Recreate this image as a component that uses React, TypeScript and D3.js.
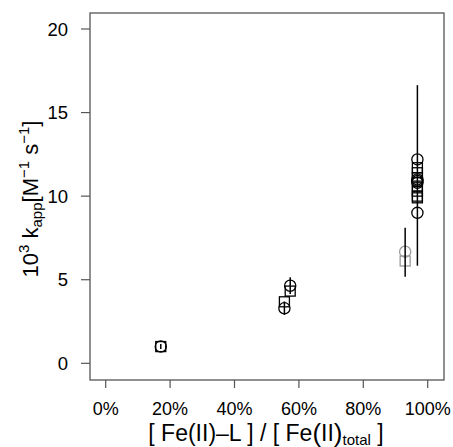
import React from "react";
import * as d3 from "d3";

// Fraction of Fe(II) bound to ligand vs. apparent rate constant (×10³)
const circleX = [0.171, 0.555, 0.573, 0.968, 0.968, 0.968, 0.968, 0.968];
const circleY = [1.0, 3.29, 4.64, 12.2, 11.0, 10.9, 10.8, 9.0];
const squareX = [0.171, 0.555, 0.573, 0.968, 0.968, 0.968, 0.968, 0.968, 0.968, 0.968];
const squareY = [1.0, 3.68, 4.32, 11.7, 11.4, 11.1, 10.6, 10.3, 10.0, 9.9];
const greyCircleX = [0.93];
const greyCircleY = [6.68];
const greySquareX = [0.93];
const greySquareY = [6.12];
// Error bars: x, low, high
const errX = [0.171, 0.555, 0.573, 0.93, 0.968];
const errLo = [0.85, 2.9, 4.15, 5.18, 5.84];
const errHi = [1.15, 3.7, 5.15, 8.11, 16.64];
const xTicks = [0, 0.2, 0.4, 0.6, 0.8, 1.0];
const yTicks = [0, 5, 10, 15, 20];

const W = 453;
const H = 447;
const box = { left: 90, right: 444, top: 13, bottom: 380 };

export default function App() {
  const x = d3.scaleLinear().domain([0, 1]).range([105.7, 427.7]);
  const y = d3.scaleLinear().domain([0, 20]).range([363.3, 29]);
  const fmt = d3.format(".0%");
  const font = "'Liberation Sans', Arial, Helvetica, sans-serif";
  const axisCol = "#555";
  const r = 5.6;
  const s = 5;

  return (
    <svg
      width={W}
      height={H}
      style={{ position: "absolute", left: 0, top: 0, background: "#fff" }}
      fontFamily={font}
    >
      <rect
        x={box.left}
        y={box.top}
        width={box.right - box.left}
        height={box.bottom - box.top}
        fill="none"
        stroke={axisCol}
        strokeWidth={1.3}
      />
      {/* x axis */}
      {xTicks.map((t) => (
        <g key={"xt" + t}>
          <line x1={x(t)} x2={x(t)} y1={box.bottom} y2={box.bottom + 8} stroke={axisCol} strokeWidth={1.2} />
          <text x={x(t)} y={415} textAnchor="middle" fontSize={18} fill="#000">
            {fmt(t)}
          </text>
        </g>
      ))}
      {/* y axis */}
      {yTicks.map((t) => (
        <g key={"yt" + t}>
          <line x1={box.left - 9} x2={box.left} y1={y(t)} y2={y(t)} stroke={axisCol} strokeWidth={1.2} />
          <text x={68} y={y(t) + 6.5} textAnchor="end" fontSize={18.5} fill="#000">
            {t}
          </text>
        </g>
      ))}
      {/* grey points */}
      {greySquareX.map((d, i) => (
        <rect key={"gs" + i} x={x(d) - s} y={y(greySquareY[i]) - s} width={2 * s} height={2 * s}
          fill="none" stroke="#999" strokeWidth={1.3} />
      ))}
      {greyCircleX.map((d, i) => (
        <circle key={"gc" + i} cx={x(d)} cy={y(greyCircleY[i])} r={r} fill="none" stroke="#999" strokeWidth={1.3} />
      ))}
      {/* black points */}
      {squareX.map((d, i) => (
        <rect key={"s" + i} x={x(d) - s} y={y(squareY[i]) - s} width={2 * s} height={2 * s}
          fill="none" stroke="#000" strokeWidth={1.3} />
      ))}
      {circleX.map((d, i) => (
        <circle key={"c" + i} cx={x(d)} cy={y(circleY[i])} r={r} fill="none" stroke="#000" strokeWidth={1.3} />
      ))}
      {/* error bars */}
      {errX.map((d, i) => (
        <g key={"e" + i} stroke="#000" strokeWidth={1.5}>
          <line x1={x(d)} x2={x(d)} y1={y(errLo[i])} y2={y(errHi[i])} />
        </g>
      ))}
      {/* x title */}
      <text x={266} y={441} textAnchor="middle" fontSize={23} fill="#000">
        [ Fe(II)–L ] / [ Fe
        <tspan fontSize={26} dy={1}>(</tspan>
        <tspan dy={-1}>II</tspan>
        <tspan fontSize={26} dy={1}>)</tspan>
        <tspan fontSize={15} dy={3}>total</tspan>
        <tspan dy={-4}> ]</tspan>
      </text>
      {/* y title */}
      <text transform={`translate(38,199) rotate(-90)`} textAnchor="middle" fontSize={22} fill="#000">
        10<tspan fontSize={15} dy={-9}>3</tspan>
        <tspan dy={9}> k</tspan>
        <tspan fontSize={15} dy={4}>app</tspan>
        <tspan dy={-4}>[M</tspan>
        <tspan fontSize={15} dy={-9}>−1</tspan>
        <tspan dy={9}> s</tspan>
        <tspan fontSize={15} dy={-9}>−1</tspan>
        <tspan dy={9}>]</tspan>
      </text>
    </svg>
  );
}
